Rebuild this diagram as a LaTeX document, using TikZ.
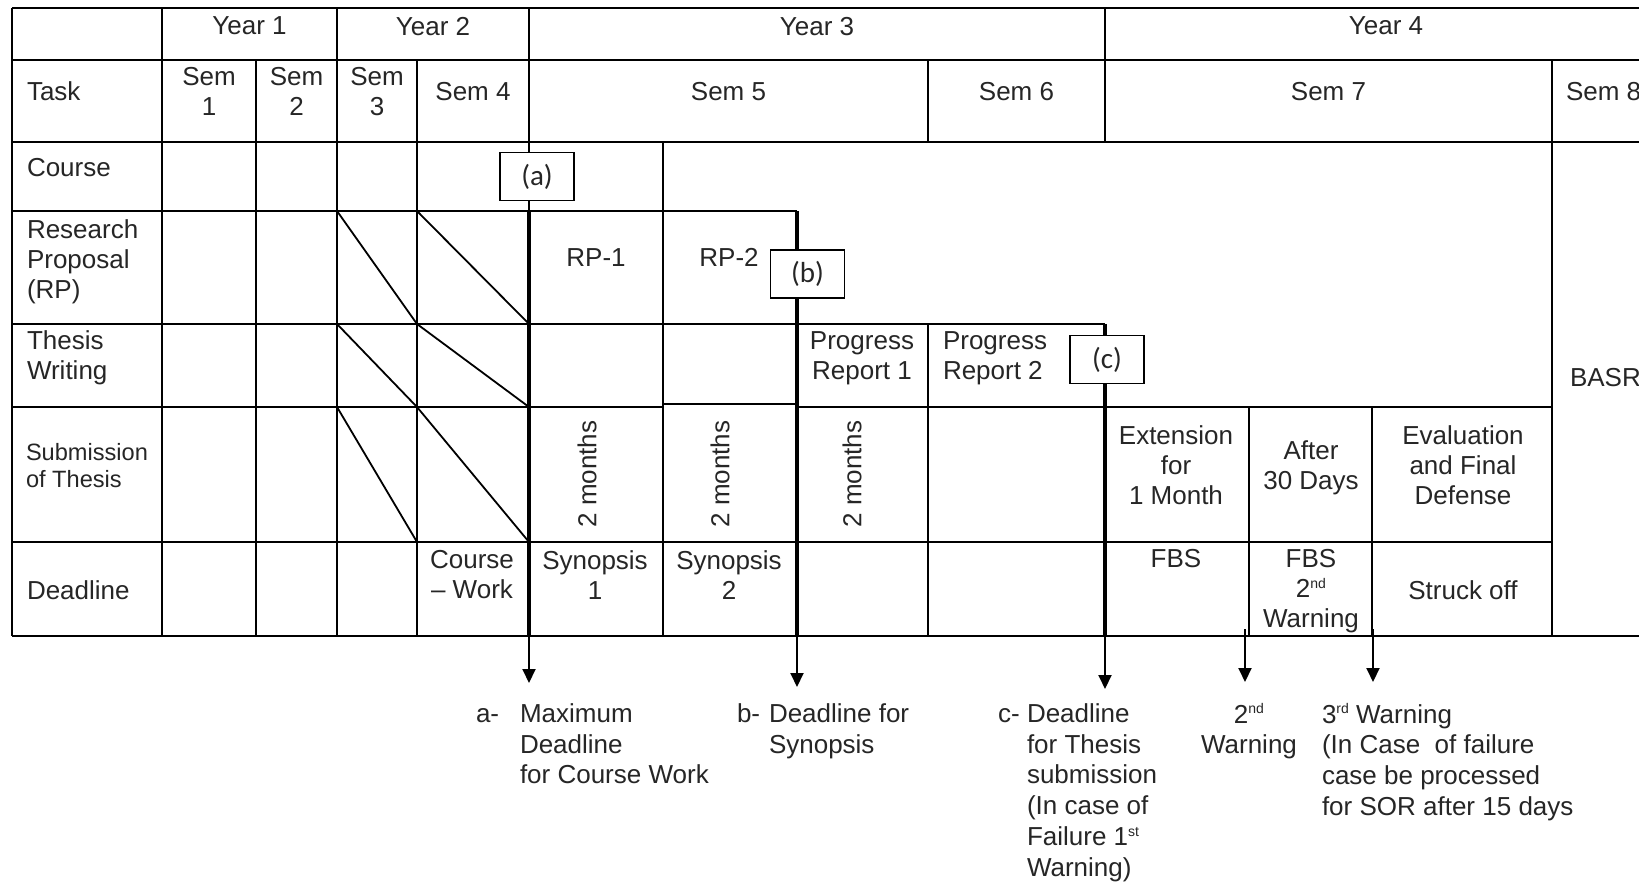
\documentclass[tikz,border=0pt]{standalone}
\usepackage{fontspec}
\setmainfont{Liberation Sans}
\newfontfamily\boxfont{Carlito}
\usetikzlibrary{arrows.meta}
\newcommand\sups[1]{\raisebox{0.36em}{\fontsize{7}{7}\selectfont #1}}
\def\XL{12}\def\XA{162}\def\XB{256}\def\XC{337}\def\XD{417}\def\XE{529}\def\XF{663}
\def\XG{797}\def\XH{928}\def\XI{1105}\def\XJ{1249}\def\XK{1372}\def\XM{1552}\def\XR{1700}
\def\YT{8}\def\YA{60}\def\YB{142}\def\YC{211}\def\YD{324}\def\YE{407}\def\YF{542}\def\YG{636}
\begin{document}
\begin{tikzpicture}[x=0.5pt,y=-0.5pt,
  thinline/.style={line width=0.9pt},
  thickline/.style={line width=2.3pt},
  txt/.style={inner sep=0pt, outer sep=0pt, text=black!85, font=\fontsize{13}{15}\selectfont, align=center, anchor=north},
  ltxt/.style={txt, align=left, anchor=north west},
  smalltxt/.style={ltxt, font=\fontsize{11.8}{13.8}\selectfont},
  vtxt/.style={txt, anchor=center, rotate=90},
  tag/.style={draw, line width=0.9pt, fill=white, minimum width=37pt, minimum height=24pt, inner sep=0pt, font=\boxfont\fontsize{14.5}{16}\selectfont, text=black!85},
  btxt/.style={ltxt, font=\fontsize{13}{15.4}\selectfont},
  bmark/.style={btxt, anchor=base west},
  arr/.style={line width=1pt, -{Triangle[length=7pt,width=6.5pt]}},
]
\useasboundingbox (0,0) rectangle (1639,882);
\fill[white] (0,0) rectangle (1639,882);
\clip (0,0) rectangle (1639,882);

% horizontal rules
\draw[thinline] (\XL,\YT) -- (\XR,\YT);
\draw[thinline] (\XL,\YA) -- (\XR,\YA);
\draw[thinline] (\XL,\YB) -- (\XR,\YB);
\draw[thinline] (\XL,\YC) -- (\XG,\YC);
\draw[thinline] (\XL,\YD) -- (\XI,\YD);
\draw[thinline] (\XL,\YE) -- (\XF,\YE);
\draw[thinline] (\XF,404) -- (\XG,404);
\draw[thinline] (\XG,\YE) -- (\XM,\YE);
\draw[thinline] (\XL,\YF) -- (\XM,\YF);
\draw[thinline] (\XL,\YG) -- (\XR,\YG);
% vertical rules
\draw[thinline] (\XL,\YT) -- (\XL,\YG);
\draw[thinline] (\XA,\YT) -- (\XA,\YG);
\draw[thinline] (\XB,\YA) -- (\XB,\YG);
\draw[thinline] (\XC,\YT) -- (\XC,\YG);
\draw[thinline] (\XD,\YA) -- (\XD,\YG);
\draw[thinline] (\XE,\YT) -- (\XE,\YC);
\draw[thinline] (\XF,\YB) -- (\XF,\YG);
\draw[thinline] (\XH,\YA) -- (\XH,\YB);
\draw[thinline] (\XH,\YD) -- (\XH,\YG);
\draw[thinline] (\XI,\YT) -- (\XI,\YB);
\draw[thinline] (\XJ,\YE) -- (\XJ,\YG);
\draw[thinline] (\XK,\YE) -- (\XK,\YG);
\draw[thinline] (\XM,\YA) -- (\XM,\YG);
% diagonals
\foreach \ya/\yb in {\YC/\YD,\YD/\YE,\YE/\YF}{
  \draw[thinline] (\XC,\ya) -- (\XD,\yb);
  \draw[thinline] (\XD,\ya) -- (\XE,\yb);
}
% thick deadline lines
\draw[thickline] (\XE,\YC) -- (\XE,\YG);
\draw[thickline] (\XG,\YC) -- (\XG,\YG);
\draw[thickline] (\XI,\YD) -- (\XI,\YG);

% tags
\node[tag] (ta) at (537,176.5) {(a)};
\node[tag] (tb) at (807.5,274) {(b)};
\node[tag] (tc) at (1107,359.5) {(c)};

% header texts
\node[txt] (y1) at (249.5,17) {Year 1};
\node[txt] (y2) at (433,17) {Year 2};
\node[txt] (y3) at (817,17) {Year 3};
\node[txt] (y4) at (1386,17) {Year 4};
\node[ltxt] (task) at (27,82) {Task};
\node[txt] (s1) at (209,67) {Sem\\1};
\node[txt] (s2) at (296.5,67) {Sem\\2};
\node[txt] (s3) at (377,67) {Sem\\3};
\node[txt] (s4) at (473,82) {Sem 4};
\node[txt] (s5) at (728.5,82) {Sem 5};
\node[txt] (s6) at (1016.5,82) {Sem 6};
\node[txt] (s7) at (1328.5,82) {Sem 7};
\node[ltxt] (s8) at (1566,82) {Sem 8};

% row labels
\node[ltxt] (course) at (27,158.5) {Course};
\node[ltxt] (rp) at (27,219.5) {Research\\Proposal\\(RP)};
\node[ltxt] (tw) at (27,331) {Thesis\\Writing};
\node[smalltxt] (sub) at (26,443) {Submission\\of Thesis};
\node[ltxt] (dl) at (27,580.5) {Deadline};

% cells
\node[txt] (rp1) at (596,248.5) {RP-1};
\node[txt] (rp2) at (729,248.5) {RP-2};
\node[txt] (pr1) at (862,331.5) {Progress\\Report 1};
\node[ltxt] (pr2) at (943,331.5) {Progress\\Report 2};
\node[vtxt] (m1) at (587,474) {2 months};
\node[vtxt] (m2) at (720,474) {2 months};
\node[vtxt] (m3) at (852,474) {2 months};
\node[txt] (ext) at (1176,425.5) {Extension\\for\\1 Month};
\node[txt] (aft) at (1311,441) {After\\30 Days};
\node[txt] (eva) at (1463,425.5) {Evaluation\\and Final\\Defense};
\node[txt] (cw) at (472,550.5) {Course\\– Work};
\node[txt] (syn1) at (595,550.5) {Synopsis\\1};
\node[txt] (syn2) at (729,550.5) {Synopsis\\2};
\node[txt] (fbs) at (1176,549.5) {FBS};
\node[txt] (fbs2) at (1311,549.5) {FBS\\2\sups{nd}\\Warning};
\node[txt] (sto) at (1463,580.5) {Struck off};
\node[ltxt] (basr) at (1570,368.5) {BASR};

% arrows
\coordinate (aS) at (\XE,\YG); \coordinate (aE) at (\XE,683);
\coordinate (bS) at (\XG,\YG); \coordinate (bE) at (\XG,687);
\coordinate (cS) at (\XI,\YG); \coordinate (cE) at (\XI,689);
\coordinate (dS) at (1245,629); \coordinate (dE) at (1245,682);
\coordinate (eS) at (1373,629); \coordinate (eE) at (1373,682);
\draw[arr] (aS) -- (aE);
\draw[arr] (bS) -- (bE);
\draw[arr] (cS) -- (cE);
\draw[arr] (dS) -- (dE);
\draw[arr] (eS) -- (eE);

% notes
\node[bmark] (la) at (476,722) {a-};
\node[btxt] (da) at (520,703.5) {Maximum\\Deadline\\for Course Work};
\node[bmark] (lb) at (737,722) {b-};
\node[btxt] (db) at (769,703.5) {Deadline for\\Synopsis};
\node[bmark] (lc) at (998,722) {c-};
\node[btxt] (dc) at (1027,703.5) {Deadline\\for Thesis\\submission\\(In case of\\Failure 1\sups{st}\\Warning)};
\node[btxt, align=center, anchor=north] (w2) at (1249,703.5) {2\sups{nd}\\Warning};
\node[btxt] (w3) at (1322,703.5) {3\sups{rd} Warning\\(In Case\ \ of failure\\case be processed\\for SOR after 15 days};
\end{tikzpicture}
\end{document}
